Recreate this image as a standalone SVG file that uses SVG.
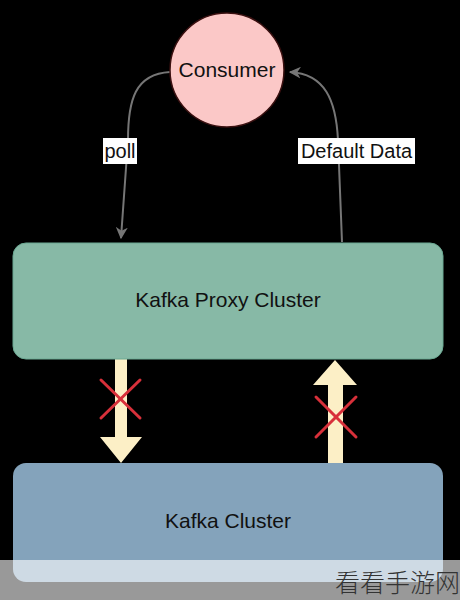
<svg xmlns="http://www.w3.org/2000/svg" width="460" height="600" viewBox="0 0 460 600">
<defs>
<style>
.lbl{font-family:"Liberation Sans",Arial,sans-serif;fill:#111;}
.edge{fill:none;stroke:#767676;stroke-width:2;}
.block{fill:#fcefc6;}
.x{stroke:#d8303a;stroke-width:3;stroke-linecap:round;}
</style>
<marker id="ah" viewBox="0 0 10 10" refX="9" refY="5" markerWidth="6" markerHeight="6" orient="auto-start-reverse">
<path d="M0,0 L10,5 L0,10 L3,5 Z" fill="#767676"/>
</marker>
</defs>
<rect width="460" height="600" fill="#000"/>
<g id="connectors">
<path class="edge" d="M170,72 C135,74 128,100 128,140 L121,238" marker-end="url(#ah)"/>
<path class="edge" d="M342,242 L338,140 C336,100 325,74 290,72" marker-end="url(#ah)"/>
<rect x="103" y="138" width="34" height="26" fill="#fff"/>
<text class="lbl" x="120" y="158" font-size="20" text-anchor="middle">poll</text>
<rect x="298" y="138" width="117" height="26" fill="#fff"/>
<text class="lbl" x="356.5" y="158" font-size="20" text-anchor="middle">Default Data</text>
<g id="block-down">
<polygon class="block" points="115,359 127,359 127,437 142,437 121,463 100,437 115,437"/>
<line class="x" x1="101" y1="380" x2="140" y2="418"/>
<line class="x" x1="140" y1="380" x2="101" y2="418"/>
</g>
<g id="block-up">
<polygon class="block" points="335,360 357,385 343,385 343,463 328,463 328,385 313,385"/>
<line class="x" x1="316" y1="397" x2="356" y2="437"/>
<line class="x" x1="356" y1="397" x2="316" y2="437"/>
</g>
</g>
<g id="consumer">
<circle cx="227" cy="70" r="57" fill="#fbc8c7" stroke="#3a1010" stroke-width="1.5"/>
<text class="lbl" x="227" y="77" font-size="21" text-anchor="middle">Consumer</text>
</g>
<g id="proxy">
<rect x="13" y="243" width="430" height="116" rx="13" fill="#87b9a6" stroke="#6aa892" stroke-width="1"/>
<text class="lbl" x="228" y="307" font-size="21" text-anchor="middle">Kafka Proxy Cluster</text>
</g>
<g id="kafka">
<rect x="13" y="463" width="430" height="119" rx="13" fill="#84a3bb"/>
<text class="lbl" x="228" y="528" font-size="21" text-anchor="middle">Kafka Cluster</text>
</g>
<g id="watermark">
<rect x="0" y="560" width="460" height="40" fill="#fff" fill-opacity="0.6"/>
<text x="460" y="592" font-size="25" font-weight="300" text-anchor="end" fill="#333" font-family="'Noto Sans CJK SC',sans-serif">看看手游网</text>
</g>
</svg>
